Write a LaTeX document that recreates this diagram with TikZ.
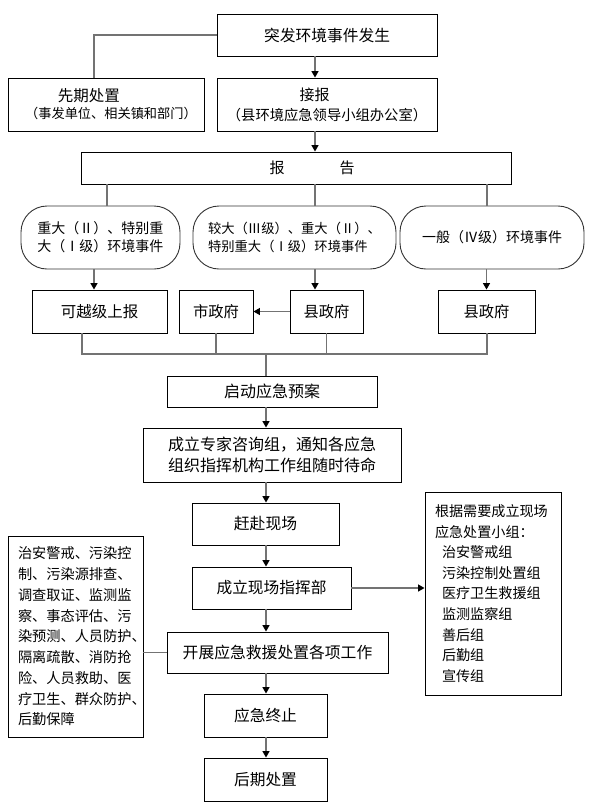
\documentclass[tikz,border=0pt]{standalone}
\usepackage{fontspec}
\setmainfont{Noto Sans CJK SC}
\usetikzlibrary{arrows.meta}
\begin{document}
\begin{tikzpicture}[x=1pt,y=-1pt,
  box/.style={draw=black,line width=0.9pt,inner sep=0pt,align=center},
  rbox/.style={box,draw=black!80,rounded corners=26pt},
  conn/.style={draw=black!55,line width=1.3pt},
  arr/.style={conn,-{Triangle[length=6.5pt,width=7pt,color=black,fill=black]}},
  f/.style args={#1/#2}{font=\fontsize{#1}{#2}\selectfont}]
\fill[white] (0,0) rectangle (597,807);
\useasboundingbox (0,0) rectangle (597,807);

% top part
\node[box,minimum width=220pt,minimum height=42pt,f=15.75/18] (top) at (327,35) {突发环境事件发生};
\node[box,minimum width=220pt,minimum height=53pt,f=14.3/20] (jiebao) at (327,104.5)
  {{\fontsize{15}{20}\selectfont 接报\hspace*{25pt}}\\（县环境应急领导小组办公室）};
\node[box,minimum width=196pt,minimum height=53pt,f=13.2/17] (xianqi) at (106,104.5)
  {{\fontsize{15.5}{17}\selectfont 先期处置\hspace*{34pt}}\\\hspace*{10pt}（事发单位、相关镇和部门）};
\node[box,minimum width=430pt,minimum height=32pt,f=15/18] (baogao) at (296,168)
  {\hspace*{32pt}报\hspace{55pt}告};

% rounded event boxes
\node[rbox,minimum width=159pt,minimum height=63pt,align=left,f=14/18] (r1) at (100.5,237.5)
  {重大（Ⅱ）、特别重\\大（Ⅰ级）环境事件};
\node[rbox,minimum width=203pt,minimum height=63pt,align=left,f=13.3/18] (r2) at (294.5,237.5)
  {较大（Ⅲ级）、重大（Ⅱ）、\\特别重大（Ⅰ级）环境事件};
\node[rbox,minimum width=184pt,minimum height=63pt,f=14/18] (r3) at (492,237.5)
  {一般（Ⅳ级）环境事件};

% government row
\node[box,minimum width=135pt,minimum height=43pt,f=15.5/18] (g1) at (99.5,311.5) {可越级上报};
\node[box,minimum width=74pt,minimum height=43pt,f=15.3/18] (g2) at (216,311.5) {市政府};
\node[box,minimum width=73pt,minimum height=43pt,f=15.3/18] (g3) at (326.5,311.5) {县政府};
\node[box,minimum width=97pt,minimum height=43pt,f=15.3/18] (g4) at (486.5,311.5) {县政府};

% main column
\node[box,minimum width=210pt,minimum height=31pt,f=16/18] (qidong) at (272,391.5) {启动应急预案};
\node[box,minimum width=258pt,minimum height=54pt,f=16/21] (chengli) at (272,455)
  {成立专家咨询组，通知各应急\\组织指挥机构工作组随时待命};
\node[box,minimum width=147pt,minimum height=42pt,f=15.8/18] (ganfu) at (265.5,524) {赶赴现场};
\node[box,minimum width=159pt,minimum height=42pt,f=15.7/18] (zhihui) at (271.5,588) {成立现场指挥部};
\node[box,minimum width=221pt,minimum height=41pt,f=15.8/18] (kaizhan) at (277.5,652.5) {开展应急救援处置各项工作};
\node[box,minimum width=123pt,minimum height=43pt,f=15.7/18] (zhongzhi) at (265.5,715.5) {应急终止};
\node[box,minimum width=123pt,minimum height=43pt,f=15.7/18] (houqi) at (265.5,779.5) {后期处置};

% side boxes
\node[box,minimum width=135pt,minimum height=201pt,text width=115pt,align=left,f=14.2/20.75] (leftbox) at (75.5,636.5)
  {治安警戒、污染控\\制、污染源排查、\\调查取证、监测监\\察、事态评估、污\\染预测、人员防护、\\隔离疏散、消防抢\\险、人员救助、医\\疗卫生、群众防护、\\后勤保障};
\node[box,minimum width=136pt,minimum height=203pt,text width=116pt,align=left,f=14.1/20.6] (rightbox) at (493,593.5)
  {根据需要成立现场\\应急处置小组：\\\hspace*{7pt}治安警戒组\\\hspace*{7pt}污染控制处置组\\\hspace*{7pt}医疗卫生救援组\\\hspace*{7pt}监测监察组\\\hspace*{7pt}善后组\\\hspace*{7pt}后勤组\\\hspace*{7pt}宣传组};

% connectors
\draw[conn] (top.west) -| ([xshift=-12pt]xianqi.north);
\draw[arr] ([xshift=-12pt]top.south) -- ([xshift=-12pt]jiebao.north);
\draw[arr] ([xshift=-12pt]jiebao.south) -- ([xshift=-12pt]jiebao.south |- baogao.north);
\draw[conn] ([xshift=6.5pt]r1.north |- baogao.south) -- ([xshift=6.5pt]r1.north);
\draw[conn] ([xshift=20.5pt]r2.north |- baogao.south) -- ([xshift=20.5pt]r2.north);
\draw[conn] ([xshift=-5pt]r3.north |- baogao.south) -- ([xshift=-5pt]r3.north);
\draw[arr] ([xshift=-6.5pt]r1.south) -- ([xshift=-6.5pt]r1.south |- g1.north);
\draw[arr] ([xshift=20.5pt]r2.south) -- ([xshift=20.5pt]r2.south |- g3.north);
\draw[arr] (g4.north |- r3.south) -- (g4.north);
\draw[arr] (g3.west) -- (g2.east);

\coordinate (busL) at (82,354);
\coordinate (busR) at (487,354);
\coordinate (busM) at (266,354);
\coordinate (spine) at (266,0);
\draw[conn] (busL |- g1.south) -- (busL) -- (busR) -- (busR |- g4.south);
\draw[conn] (g2.south) -- (g2.south |- busL);
\draw[conn] (g3.south) -- (g3.south |- busL);
\draw[conn] (busM) -- (busM |- qidong.north);

\draw[arr] (spine |- qidong.south) -- (spine |- chengli.north);
\draw[arr] (spine |- chengli.south) -- (spine |- ganfu.north);
\draw[arr] (spine |- ganfu.south) -- (spine |- zhihui.north);
\draw[arr] (spine |- zhihui.south) -- (spine |- kaizhan.north);
\draw[arr] (spine |- kaizhan.south) -- (spine |- zhongzhi.north);
\draw[arr] (spine |- zhongzhi.south) -- (spine |- houqi.north);

\draw[arr] (zhihui.east) -- (zhihui.east -| rightbox.west);
\draw[conn] (kaizhan.west) -- (kaizhan.west -| leftbox.east);
\end{tikzpicture}
\end{document}
